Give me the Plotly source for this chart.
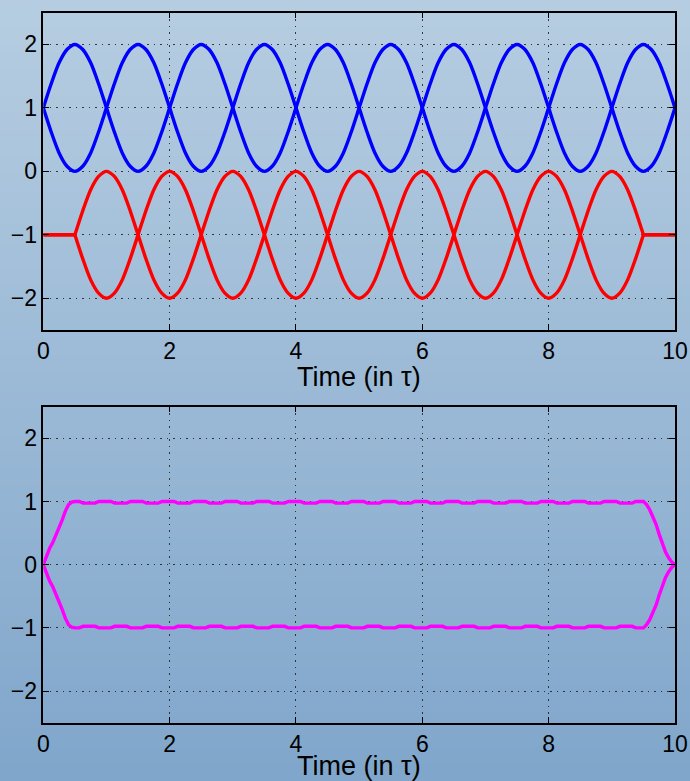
import plotly.graph_objects as go

# ---------------- data ----------------
t = [0, 0.125, 0.25, 0.375, 0.5, 0.625, 0.75, 0.875,
     1, 1.125, 1.25, 1.375, 1.5, 1.625, 1.75, 1.875,
     2, 2.125, 2.25, 2.375, 2.5, 2.625, 2.75, 2.875,
     3, 3.125, 3.25, 3.375, 3.5, 3.625, 3.75, 3.875,
     4, 4.125, 4.25, 4.375, 4.5, 4.625, 4.75, 4.875,
     5, 5.125, 5.25, 5.375, 5.5, 5.625, 5.75, 5.875,
     6, 6.125, 6.25, 6.375, 6.5, 6.625, 6.75, 6.875,
     7, 7.125, 7.25, 7.375, 7.5, 7.625, 7.75, 7.875,
     8, 8.125, 8.25, 8.375, 8.5, 8.625, 8.75, 8.875,
     9, 9.125, 9.25, 9.375, 9.5, 9.625, 9.75, 9.875,
     10]

blue_a = [1, 1.38, 1.71, 1.92, 2, 1.92, 1.71, 1.38, 1, 0.62, 0.29, 0.08, 0, 0.08, 0.29, 0.62,
          1, 1.38, 1.71, 1.92, 2, 1.92, 1.71, 1.38, 1, 0.62, 0.29, 0.08, 0, 0.08, 0.29, 0.62,
          1, 1.38, 1.71, 1.92, 2, 1.92, 1.71, 1.38, 1, 0.62, 0.29, 0.08, 0, 0.08, 0.29, 0.62,
          1, 1.38, 1.71, 1.92, 2, 1.92, 1.71, 1.38, 1, 0.62, 0.29, 0.08, 0, 0.08, 0.29, 0.62,
          1, 1.38, 1.71, 1.92, 2, 1.92, 1.71, 1.38, 1, 0.62, 0.29, 0.08, 0, 0.08, 0.29, 0.62,
          1]

blue_b = [1, 0.62, 0.29, 0.08, 0, 0.08, 0.29, 0.62, 1, 1.38, 1.71, 1.92, 2, 1.92, 1.71, 1.38,
          1, 0.62, 0.29, 0.08, 0, 0.08, 0.29, 0.62, 1, 1.38, 1.71, 1.92, 2, 1.92, 1.71, 1.38,
          1, 0.62, 0.29, 0.08, 0, 0.08, 0.29, 0.62, 1, 1.38, 1.71, 1.92, 2, 1.92, 1.71, 1.38,
          1, 0.62, 0.29, 0.08, 0, 0.08, 0.29, 0.62, 1, 1.38, 1.71, 1.92, 2, 1.92, 1.71, 1.38,
          1, 0.62, 0.29, 0.08, 0, 0.08, 0.29, 0.62, 1, 1.38, 1.71, 1.92, 2, 1.92, 1.71, 1.38,
          1]

red_a = [-1, -1, -1, -1, -1,
         -0.62, -0.29, -0.08, 0, -0.08, -0.29, -0.62, -1, -1.38, -1.71, -1.92, -2, -1.92, -1.71, -1.38, -1,
         -0.62, -0.29, -0.08, 0, -0.08, -0.29, -0.62, -1, -1.38, -1.71, -1.92, -2, -1.92, -1.71, -1.38, -1,
         -0.62, -0.29, -0.08, 0, -0.08, -0.29, -0.62, -1, -1.38, -1.71, -1.92, -2, -1.92, -1.71, -1.38, -1,
         -0.62, -0.29, -0.08, 0, -0.08, -0.29, -0.62, -1, -1.38, -1.71, -1.92, -2, -1.92, -1.71, -1.38, -1,
         -0.62, -0.29, -0.08, 0, -0.08, -0.29, -0.62, -1,
         -1, -1, -1, -1]

red_b = [-1, -1, -1, -1, -1,
         -1.38, -1.71, -1.92, -2, -1.92, -1.71, -1.38, -1, -0.62, -0.29, -0.08, 0, -0.08, -0.29, -0.62, -1,
         -1.38, -1.71, -1.92, -2, -1.92, -1.71, -1.38, -1, -0.62, -0.29, -0.08, 0, -0.08, -0.29, -0.62, -1,
         -1.38, -1.71, -1.92, -2, -1.92, -1.71, -1.38, -1, -0.62, -0.29, -0.08, 0, -0.08, -0.29, -0.62, -1,
         -1.38, -1.71, -1.92, -2, -1.92, -1.71, -1.38, -1, -0.62, -0.29, -0.08, 0, -0.08, -0.29, -0.62, -1,
         -1.38, -1.71, -1.92, -2, -1.92, -1.71, -1.38, -1,
         -1, -1, -1, -1]

mag_t = [0, 0.05, 0.1, 0.15, 0.2, 0.25, 0.3, 0.35, 0.4, 0.45, 0.5, 0.57, 0.63, 0.82, 0.88, 1.07,
         1.13, 1.32, 1.38, 1.57, 1.63, 1.82, 1.88, 2.07,
         2.13, 2.32, 2.38, 2.57, 2.63, 2.82, 2.88, 3.07,
         3.13, 3.32, 3.38, 3.57, 3.63, 3.82, 3.88, 4.07,
         4.13, 4.32, 4.38, 4.57, 4.63, 4.82, 4.88, 5.07,
         5.13, 5.32, 5.38, 5.57, 5.63, 5.82, 5.88, 6.07,
         6.13, 6.32, 6.38, 6.57, 6.63, 6.82, 6.88, 7.07,
         7.13, 7.32, 7.38, 7.57, 7.63, 7.82, 7.88, 8.07,
         8.13, 8.32, 8.38, 8.57, 8.63, 8.82, 8.88, 9.07,
         9.13, 9.32, 9.38, 9.5, 9.55, 9.6, 9.65, 9.7, 9.75, 9.8, 9.85, 9.9, 9.95, 10]

mag_upper = [0, 0.14, 0.26, 0.35, 0.46, 0.58, 0.71, 0.85, 0.95, 0.99, 1.0, 1.0, 0.975, 0.975, 1.0, 1.0,
             0.975, 0.975, 1.0, 1.0, 0.975, 0.975, 1.0, 1.0,
             0.975, 0.975, 1.0, 1.0, 0.975, 0.975, 1.0, 1.0,
             0.975, 0.975, 1.0, 1.0, 0.975, 0.975, 1.0, 1.0,
             0.975, 0.975, 1.0, 1.0, 0.975, 0.975, 1.0, 1.0,
             0.975, 0.975, 1.0, 1.0, 0.975, 0.975, 1.0, 1.0,
             0.975, 0.975, 1.0, 1.0, 0.975, 0.975, 1.0, 1.0,
             0.975, 0.975, 1.0, 1.0, 0.975, 0.975, 1.0, 1.0,
             0.975, 0.975, 1.0, 1.0, 0.975, 0.975, 1.0, 1.0,
             0.975, 0.975, 1.0, 1.0, 0.95, 0.87, 0.77, 0.64, 0.48, 0.33, 0.2, 0.11, 0.04, 0]

mag_lower = [0, -0.14, -0.26, -0.35, -0.46, -0.58, -0.71, -0.85, -0.95, -0.99, -1.0, -1.0, -0.975, -0.975, -1.0, -1.0,
             -0.975, -0.975, -1.0, -1.0, -0.975, -0.975, -1.0, -1.0,
             -0.975, -0.975, -1.0, -1.0, -0.975, -0.975, -1.0, -1.0,
             -0.975, -0.975, -1.0, -1.0, -0.975, -0.975, -1.0, -1.0,
             -0.975, -0.975, -1.0, -1.0, -0.975, -0.975, -1.0, -1.0,
             -0.975, -0.975, -1.0, -1.0, -0.975, -0.975, -1.0, -1.0,
             -0.975, -0.975, -1.0, -1.0, -0.975, -0.975, -1.0, -1.0,
             -0.975, -0.975, -1.0, -1.0, -0.975, -0.975, -1.0, -1.0,
             -0.975, -0.975, -1.0, -1.0, -0.975, -0.975, -1.0, -1.0,
             -0.975, -0.975, -1.0, -1.0, -0.95, -0.87, -0.77, -0.64, -0.48, -0.33, -0.2, -0.11, -0.04, 0]

x_ticks = [0, 2, 4, 6, 8, 10]
y_ticks = [-2, -1, 0, 1, 2]
x_title = "Time (in τ)"

# ---------------- figure ----------------
W, H = 690, 781
fig = go.Figure()

line_w = 3.4
spline = dict(shape="spline", smoothing=0.8)


def add_line(xs, ys, col, axis_x, axis_y, smooth):
    ln = dict(color=col, width=line_w)
    if smooth:
        ln.update(spline)
    fig.add_trace(go.Scatter(x=xs, y=ys, mode="lines", line=ln, xaxis=axis_x, yaxis=axis_y,
                             hoverinfo="skip", showlegend=False))


for ys in [blue_a, blue_b]:
    add_line(t, ys, "#0000ff", "x", "y", True)

# red: flat ends drawn straight, oscillating middle smoothed (0.5 .. 9.5)
i0, i1 = t.index(0.5), t.index(9.5)
for ys in [red_a, red_b]:
    add_line(t[:i0 + 1], ys[:i0 + 1], "#ff0000", "x", "y", False)
    add_line(t[i0:i1 + 1], ys[i0:i1 + 1], "#ff0000", "x", "y", True)
    add_line(t[i1:], ys[i1:], "#ff0000", "x", "y", False)

for ys in [mag_upper, mag_lower]:
    add_line(mag_t, ys, "#ff00ff", "x2", "y2", False)

xdom = [43.3 / W, 675 / W]
ydom_top = [1 - 330 / H, 1 - 12.7 / H]
ydom_bot = [1 - 722.7 / H, 1 - 406.7 / H]

tickfont = dict(family="Liberation Sans, Arial, sans-serif", size=23, color="black")
common = dict(ticks="inside", ticklen=6, tickwidth=1, tickcolor="black",
              showline=True, linecolor="black", linewidth=1.5, mirror="ticks",
              showgrid=True, gridcolor="rgba(30,30,30,0.85)", gridwidth=1, griddash="1.5px,5px",
              zeroline=False, tickfont=tickfont, automargin=False)

fig.update_layout(
    width=W, height=H,
    margin=dict(l=0, r=0, t=0, b=0),
    paper_bgcolor="rgb(158,188,215)",
    plot_bgcolor="rgba(0,0,0,0)",
    xaxis=dict(domain=xdom, range=[0, 10], tickvals=x_ticks, anchor="y", **common),
    yaxis=dict(domain=ydom_top, range=[-2.5, 2.5], tickvals=y_ticks, anchor="x", **common),
    xaxis2=dict(domain=xdom, range=[0, 10], tickvals=x_ticks, anchor="y2", **common),
    yaxis2=dict(domain=ydom_bot, range=[-2.5, 2.5], tickvals=y_ticks, anchor="x2", **common),
)

# vertical gradient background
top_c = (182, 205, 225)
bot_c = (128, 166, 203)
N = 90
shapes = []
for i in range(N):
    f = i / (N - 1)
    c = tuple(round(top_c[k] + (bot_c[k] - top_c[k]) * f) for k in range(3))
    y1 = 1 - i / N
    y0 = 1 - (i + 1) / N - 0.002
    shapes.append(dict(type="rect", xref="paper", yref="paper", x0=0, x1=1, y0=max(y0, 0), y1=y1,
                       fillcolor="rgb(%d,%d,%d)" % c, line=dict(width=0), layer="below"))
fig.update_layout(shapes=shapes)

xc = (xdom[0] + xdom[1]) / 2
title_font = dict(family="Liberation Sans, Arial, sans-serif", size=27, color="black")
fig.add_annotation(text=x_title, x=xc, y=1 - 377 / H, xref="paper", yref="paper",
                   xanchor="center", yanchor="middle", showarrow=False, font=title_font)
fig.add_annotation(text=x_title, x=xc, y=1 - 766 / H, xref="paper", yref="paper",
                   xanchor="center", yanchor="middle", showarrow=False, font=title_font)

fig.write_html("out.html", config={"displayModeBar": False},
               post_script="document.body.style.margin='0px';document.body.style.overflow='hidden';"
                           "document.body.style.background='rgb(130,168,204)';")
